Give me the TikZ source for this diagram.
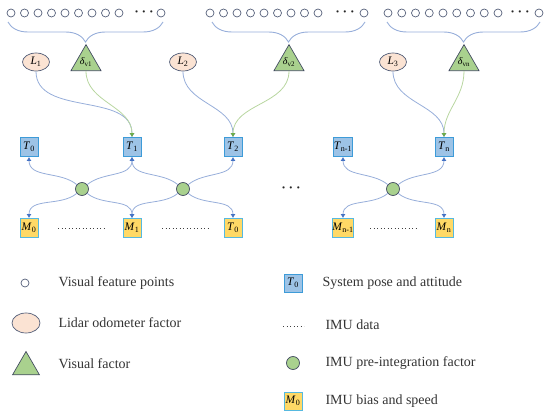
\documentclass[tikz,border=0pt]{standalone}
\usepackage{fontspec}
\setmainfont{Liberation Serif}
\usepackage{xcolor}
\usetikzlibrary{positioning,shapes.geometric,decorations.pathreplacing,arrows.meta}

\definecolor{slate}{HTML}{55607A}
\definecolor{lidarfill}{HTML}{FBE3D3}
\definecolor{greenfill}{HTML}{A9D18E}
\definecolor{greenline}{HTML}{B8D6A0}
\definecolor{greenhead}{HTML}{6FAE47}
\definecolor{posefill}{HTML}{9DC3E6}
\definecolor{poseline}{HTML}{3D9BD8}
\definecolor{biasfill}{HTML}{FFD966}
\definecolor{biasline}{HTML}{56B9E0}
\definecolor{blueline}{HTML}{97AEDA}
\definecolor{bluehead}{HTML}{4472C4}

\newcommand{\sym}[2]{\textit{#1}\textsubscript{#2}}

\tikzset{
  feat/.style={circle, draw=slate, fill=white, line width=0.7pt, minimum size=8pt, inner sep=0pt},
  lidar/.style={ellipse, draw=slate, fill=lidarfill, line width=0.7pt, minimum width=27pt, minimum height=18pt, inner sep=0pt},
  visual/.style={regular polygon, regular polygon sides=3, draw=slate!80!black, fill=greenfill, line width=0.7pt, minimum size=30pt, inner sep=0pt},
  pose/.style={rectangle, draw=poseline, fill=posefill, line width=0.8pt, minimum width=18pt, minimum height=19pt, inner sep=0pt},
  bias/.style={rectangle, draw=biasline, fill=biasfill, line width=0.8pt, minimum width=18pt, minimum height=19pt, inner sep=0pt},
  imu/.style={circle, draw=slate!80!black, fill=greenfill, line width=0.7pt, minimum size=13pt, inner sep=0pt},
  feature brace/.style={draw=blueline, line width=0.9pt, decorate, decoration={brace, mirror, amplitude=20pt}},
  bluearrow/.style={draw=blueline, line width=0.8pt, -{Latex[length=4pt,width=5pt,color=bluehead]}},
  greenarrow/.style={draw=greenline, line width=0.8pt, -{Latex[length=4pt,width=5pt,color=greenhead]}},
  imudata/.style={draw=black!75, line width=0.9pt, dash pattern=on 0.9pt off 2.6pt},
  more/.style={font=\fontsize{15}{15}\selectfont\boldmath, text=black!85},
  legend/.style={anchor=west, font=\fontsize{14}{16}\selectfont, text=black!80}
}

\begin{document}
\begin{tikzpicture}[x=1pt, y=-1pt, every node/.style={font=\fontsize{11.5}{12}\selectfont}]
\useasboundingbox (0,0) rectangle (550,415);

% Visual feature points
\foreach \i in {0,...,8} {
  \node[feat] (fa\i) at (11+13.5*\i, 13) {};
  \node[feat] (fb\i) at (210+13.5*\i, 13) {};
  \node[feat] (fc\i) at (388+13.75*\i, 13) {};
}
\node[feat] (fa9) at (161, 13) {};
\node[feat] (fb9) at (364, 13) {};
\node[feat] (fc9) at (539, 13) {};
\node[more] (dotsa) at (144, 12) {$\cdots$};
\node[more] (dotsb) at (345, 12) {$\cdots$};
\node[more] (dotsc) at (520, 12) {$\cdots$};

% Braces
\coordinate (ba) at (8, 22);  \coordinate (ea) at (163, 22);
\coordinate (bb) at (212, 22); \coordinate (eb) at (365, 22);
\coordinate (bc) at (387, 22); \coordinate (ec) at (540, 22);
\draw[feature brace] (ba) -- (ea);
\draw[feature brace] (bb) -- (eb);
\draw[feature brace] (bc) -- (ec);

% Visual factors
\node[visual, font=\fontsize{10}{11}\selectfont] (V1) at (86, 62) {\sym{δ}{v1}};
\node[visual, font=\fontsize{10}{11}\selectfont] (V2) at (289, 62) {\sym{δ}{v2}};
\node[visual, font=\fontsize{10}{11}\selectfont] (Vn) at (464, 62) {\sym{δ}{vn}};

% Lidar odometer factors
\node[lidar] (L1) at (36, 62) {\sym{L}{1}};
\node[lidar] (L2) at (183, 62) {\sym{L}{2}};
\node[lidar] (L3) at (393, 62) {\sym{L}{3}};

% System pose and attitude
\node[pose] (T0) at (29, 147) {\sym{T}{0}};
\node[pose] (T1) at (132, 147) {\sym{T}{1}};
\node[pose] (T2) at (233, 147) {\sym{T}{2}};
\node[pose] (Tm) at (343, 147) {\sym{T}{n-1}};
\node[pose] (Tn) at (444, 147) {\sym{T}{n}};

% IMU pre-integration factors
\node[imu] (I1) at (82, 189) {};
\node[imu] (I2) at (183, 189) {};
\node[imu] (I3) at (393, 189) {};
\node[more] (gap) at (291, 188) {$\cdots$};

% IMU bias and speed
\node[bias] (M0) at (29, 228) {\sym{M}{0}};
\node[bias] (M1) at (132, 228) {\sym{M}{1}};
\node[bias] (B2) at (233, 228) {\sym{T}{0}};
\node[bias] (Mm) at (343, 228) {\sym{M}{n-1}};
\node[bias] (Mn) at (444, 228) {\sym{M}{n}};

% IMU data
\draw[imudata] (58, 228) -- (104, 228);
\draw[imudata] (162, 228) -- (208, 228);
\draw[imudata] (370, 228) -- (416, 228);

% Lidar and visual constraints
\draw[bluearrow] (L1.south) to[out=-90, in=90] (T1.north);
\draw[greenarrow] (V1.south) to[out=-90, in=90] (T1.north);
\draw[bluearrow] (L2.south) to[out=-90, in=90] (T2.north);
\draw[greenarrow] (V2.south) to[out=-90, in=90] (T2.north);
\draw[bluearrow] (L3.south) to[out=-90, in=90] (Tn.north);
\draw[greenarrow] (Vn.south) to[out=-90, in=90] (Tn.north);

% IMU constraints
\draw[bluearrow] (I1) to[out=140, in=-90] (T0.south);
\draw[bluearrow] (I1) to[out=40, in=-90] (T1.south);
\draw[bluearrow] (I1) to[out=-140, in=90] (M0.north);
\draw[bluearrow] (I1) to[out=-40, in=90] (M1.north);
\draw[bluearrow] (I2) to[out=140, in=-90] (T1.south);
\draw[bluearrow] (I2) to[out=40, in=-90] (T2.south);
\draw[bluearrow] (I2) to[out=-140, in=90] (M1.north);
\draw[bluearrow] (I2) to[out=-40, in=90] (B2.north);
\draw[bluearrow] (I3) to[out=140, in=-90] (Tm.south);
\draw[bluearrow] (I3) to[out=40, in=-90] (Tn.south);
\draw[bluearrow] (I3) to[out=-140, in=90] (Mm.north);
\draw[bluearrow] (I3) to[out=-40, in=90] (Mn.north);

% Legend
\node[feat] (kfeat) at (25, 283) {};
\node[legend] (tfeat) at (55, 283) {Visual feature points};
\node[lidar, minimum width=28pt, minimum height=20pt] (klidar) at (26, 323) {};
\node[legend] (tlidar) at (55, 323) {Lidar odometer factor};
\node[visual, minimum size=31pt] (kvis) at (26, 367) {};
\node[legend] (tvis) at (55, 364) {Visual factor};

\node[pose, minimum height=18pt] (kpose) at (293, 283) {\sym{T}{0}};
\node[legend] (tpose) at (319, 283) {System pose and attitude};
\coordinate (kdata1) at (283, 326); \coordinate (kdata2) at (304, 326);
\draw[imudata] (kdata1) -- (kdata2);
\node[legend] (tdata) at (322, 325) {IMU data};
\node[imu] (kimu) at (293, 363) {};
\node[legend] (timu) at (322, 363) {IMU pre-integration factor};
\node[bias, minimum height=18pt] (kbias) at (293, 401) {\sym{M}{0}};
\node[legend] (tbias) at (322, 401) {IMU bias and speed};
\end{tikzpicture}
\end{document}
